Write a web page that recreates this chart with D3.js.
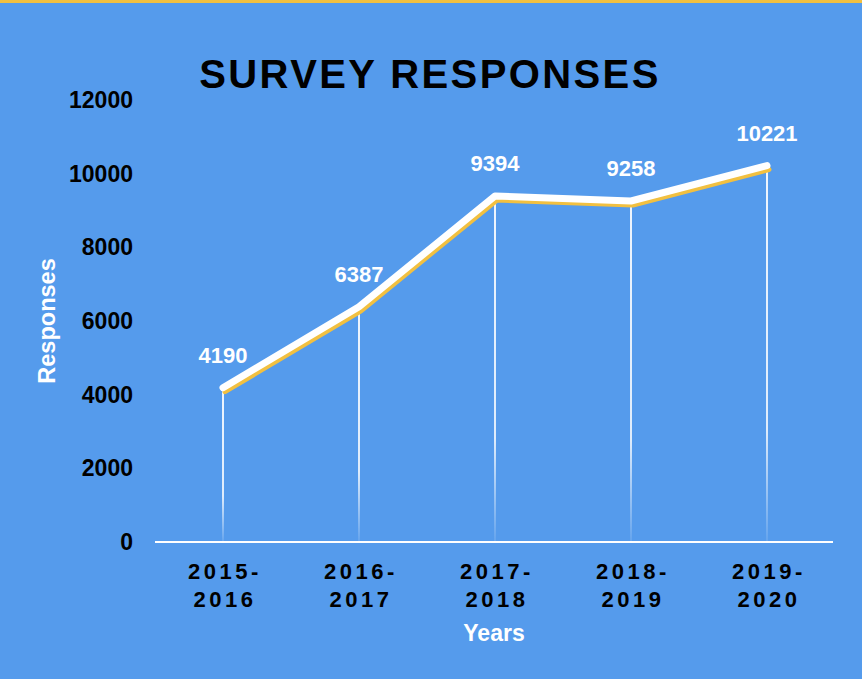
<!DOCTYPE html>
<html><head><meta charset="utf-8">
<script src="https://cdn.jsdelivr.net/npm/d3@7"></script>
<style>
html,body{margin:0;padding:0;background:#559BEC;}
svg{display:block;}
text{font-family:"Liberation Sans",Arial,sans-serif;}
</style></head>
<body>
<svg id="chart" width="862" height="679"></svg>
<script>
const categories = ["2015-2016","2016-2017","2017-2018","2018-2019","2019-2020"];
const responses = [4190, 6387, 9394, 9258, 10221];
const yTicks = [0, 2000, 4000, 6000, 8000, 10000, 12000];

const W = 862, H = 679;
const margin = {left:155, right:27, top:100, bottom:137};
const svg = d3.select("#chart");

svg.append("rect").attr("width",W).attr("height",H).attr("fill","#559BEC");
svg.append("rect").attr("width",W).attr("height",3).attr("fill","#F2C040");

const x = d3.scalePoint().domain(categories).range([margin.left, W-margin.right]).padding(0.5);
const y = d3.scaleLinear().domain([0,12000]).range([H-margin.bottom, margin.top]);

const defs = svg.append("defs");
const grad = defs.append("linearGradient").attr("id","fade").attr("x1",0).attr("y1",0).attr("x2",0).attr("y2",1);
grad.append("stop").attr("offset","0%").attr("stop-color","#fff").attr("stop-opacity",1);
grad.append("stop").attr("offset","70%").attr("stop-color","#fff").attr("stop-opacity",0.9);
grad.append("stop").attr("offset","100%").attr("stop-color","#fff").attr("stop-opacity",0.1);

// Title
svg.append("text").attr("x",430).attr("y",88).attr("text-anchor","middle")
  .attr("font-size",40).attr("font-weight","bold").attr("letter-spacing",2.4)
  .attr("fill","#000").text("SURVEY RESPONSES");

// Y axis labels
const yAxis = d3.axisLeft(y).tickValues(yTicks).tickSize(0).tickPadding(22).tickFormat(d3.format("d"));
const gy = svg.append("g").attr("transform",`translate(${margin.left},0)`).call(yAxis);
gy.select(".domain").remove();
gy.selectAll("text").attr("font-size",23).attr("font-weight","bold").attr("fill","#000")
  .attr("font-family","'Liberation Sans',Arial,sans-serif");

// Drop lines
const data = categories.map((c,i)=>({c, v:responses[i]}));
svg.append("g").selectAll("rect").data(data).join("rect")
  .attr("x",d=>x(d.c)-0.9).attr("width",1.8)
  .attr("y",d=>y(d.v)).attr("height",d=>y(0)-y(d.v))
  .attr("fill","url(#fade)");

// X axis
const xAxis = d3.axisBottom(x).tickSize(0).tickFormat("");
const gx = svg.append("g").attr("transform",`translate(0,${y(0)})`).call(xAxis);
gx.select(".domain").attr("stroke","#fff").attr("stroke-width",2).attr("d",`M${margin.left},0H${W-margin.right-2}`);

const xl = svg.append("g").selectAll("text").data(categories).join("text")
  .attr("x",d=>x(d)+2).attr("y",y(0)+37).attr("text-anchor","middle")
  .attr("font-size",22).attr("font-weight","bold").attr("letter-spacing",3.5).attr("fill","#000");
xl.append("tspan").attr("x",d=>x(d)+2).text(d=>d.split("-")[0]+"-");
xl.append("tspan").attr("x",d=>x(d)+2).attr("dy",28).text(d=>d.split("-")[1]);

// Lines
const line = d3.line().x(d=>x(d.c)).y(d=>y(d.v));
svg.append("path").datum(data).attr("d",line).attr("fill","none")
  .attr("stroke","#F2C040").attr("stroke-width",5).attr("stroke-linecap","round").attr("stroke-linejoin","round")
  .attr("transform","translate(2,4)");
svg.append("path").datum(data).attr("d",line).attr("fill","none")
  .attr("stroke","#fff").attr("stroke-width",7).attr("stroke-linecap","round").attr("stroke-linejoin","round");

// Value labels
svg.append("g").selectAll("text").data(data).join("text")
  .attr("x",d=>x(d.c)).attr("y",d=>y(d.v)-25).attr("text-anchor","middle")
  .attr("font-size",22).attr("font-weight","bold").attr("fill","#fff").text(d=>d.v);

// Axis titles
svg.append("text").attr("x",494).attr("y",641).attr("text-anchor","middle")
  .attr("font-size",23).attr("font-weight","bold").attr("fill","#fff").text("Years");
svg.append("text").attr("transform","translate(55,321) rotate(-90)").attr("text-anchor","middle")
  .attr("font-size",23.5).attr("font-weight","bold").attr("fill","#fff").text("Responses");
</script>
</body></html>
